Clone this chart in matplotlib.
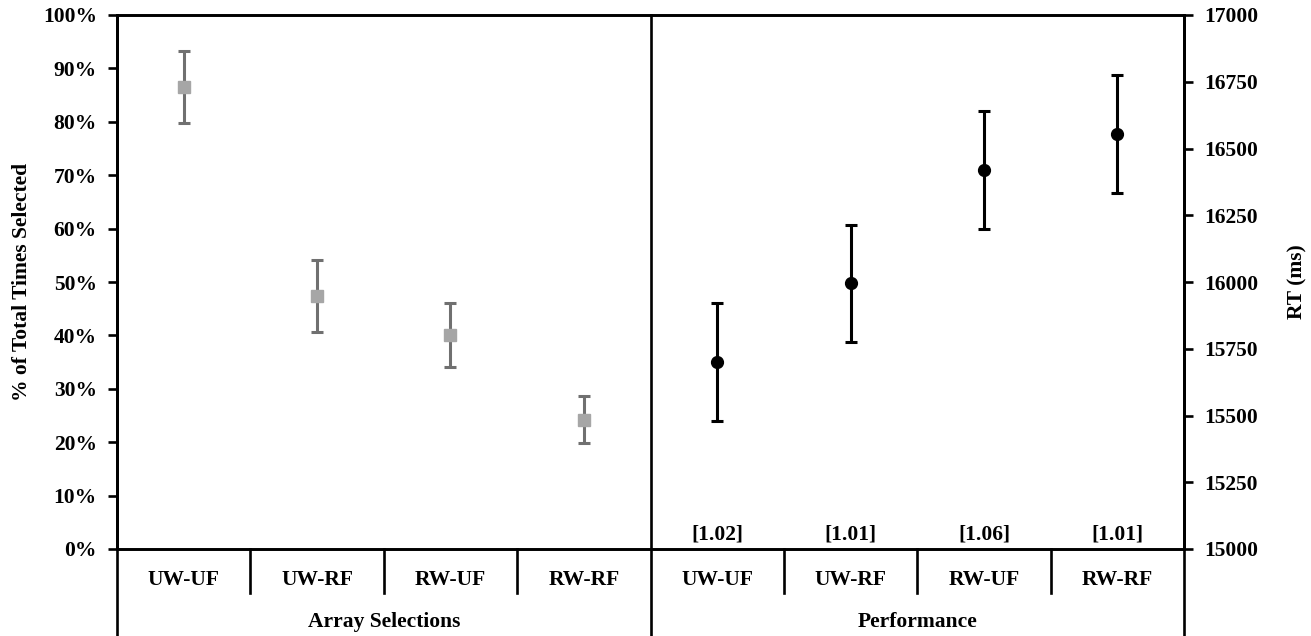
import matplotlib.pyplot as plt
from matplotlib.transforms import blended_transform_factory

plt.rcParams["font.family"] = "Liberation Serif"
plt.rcParams["font.weight"] = "bold"

# Data
categories = ["UW-UF", "UW-RF", "RW-UF", "RW-RF"]
groups = ["Array Selections", "Performance"]
sel_pct = [86.5, 47.4, 40.1, 24.2]
sel_err = [6.8, 6.7, 6.0, 4.4]
rt_ms = [15700, 15995, 16419, 16554]
rt_err = [220, 220, 221, 222]
rt_notes = ["[1.02]", "[1.01]", "[1.06]", "[1.01]"]

W, H = 1311, 636
fig = plt.figure(figsize=(W / 100, H / 100), dpi=100)

# axes box in pixels: left 117, right 1184, top 15, bottom 549
ax = fig.add_axes([117 / W, (H - 549) / H, (1184 - 117) / W, (549 - 15) / H])
ax2 = ax.twinx()

fs = 15.5
lw = 1.9

n = len(categories)
x_left = [i + 0.5 for i in range(n)]
x_right = [n + i + 0.5 for i in range(n)]

ax.errorbar(x_left, sel_pct, yerr=sel_err, fmt="s", ms=9,
            mfc="#a6a6a6", mec="#a6a6a6", ecolor="#707070",
            elinewidth=2.2, capsize=4, capthick=2.2, zorder=3)
ax2.errorbar(x_right, rt_ms, yerr=rt_err, fmt="o", ms=8.5,
             color="black", ecolor="black",
             elinewidth=2.2, capsize=4, capthick=2.2, zorder=3)

ax.set_xlim(0, 2 * n)
ax.set_ylim(0, 100)
ax2.set_ylim(15000, 17000)
ax.set_xticks([])

ax.set_yticks(range(0, 101, 10))
ax.set_yticklabels([f"{v}%" for v in range(0, 101, 10)], fontsize=fs, fontweight="bold")
ax2.set_yticks(range(15000, 17001, 250))
ax2.set_yticklabels([str(v) for v in range(15000, 17001, 250)], fontsize=fs, fontweight="bold")

for a in (ax, ax2):
    for s in a.spines.values():
        s.set_linewidth(lw)
    a.tick_params(axis="y", length=6.5, width=lw, pad=8)

ax.set_ylabel("% of Total Times Selected", fontsize=fs, fontweight="bold", labelpad=8)
ax2.set_ylabel("RT (ms)", fontsize=fs, fontweight="bold", labelpad=21)

# frame below the axes
tr = blended_transform_factory(ax.transData, fig.transFigure)
y_top = (H - 15) / H
y_axis = (H - 549) / H
y_sep = (H - 593) / H

for xv in [0, n, 2 * n]:
    ax.plot([xv, xv], [0, y_top], transform=tr, color="black", lw=lw, clip_on=False, zorder=4)
for xv in [1, 2, 3, n + 1, n + 2, n + 3]:
    ax.plot([xv, xv], [y_axis, y_sep], transform=tr, color="black", lw=lw, clip_on=False)

for i, c in enumerate(categories):
    for xv in (x_left[i], x_right[i]):
        ax.text(xv, (H - 580) / H, c, transform=tr, ha="center", va="center",
                fontsize=fs, fontweight="bold")
for g, xv in zip(groups, [n / 2, n + n / 2]):
    ax.text(xv, (H - 622) / H, g, transform=tr, ha="center", va="center",
            fontsize=fs, fontweight="bold")

for xv, t in zip(x_right, rt_notes):
    ax.text(xv, (H - 535) / H, t, transform=tr, ha="center", va="center",
            fontsize=fs, fontweight="bold")

fig.savefig("out.png", dpi=100)
